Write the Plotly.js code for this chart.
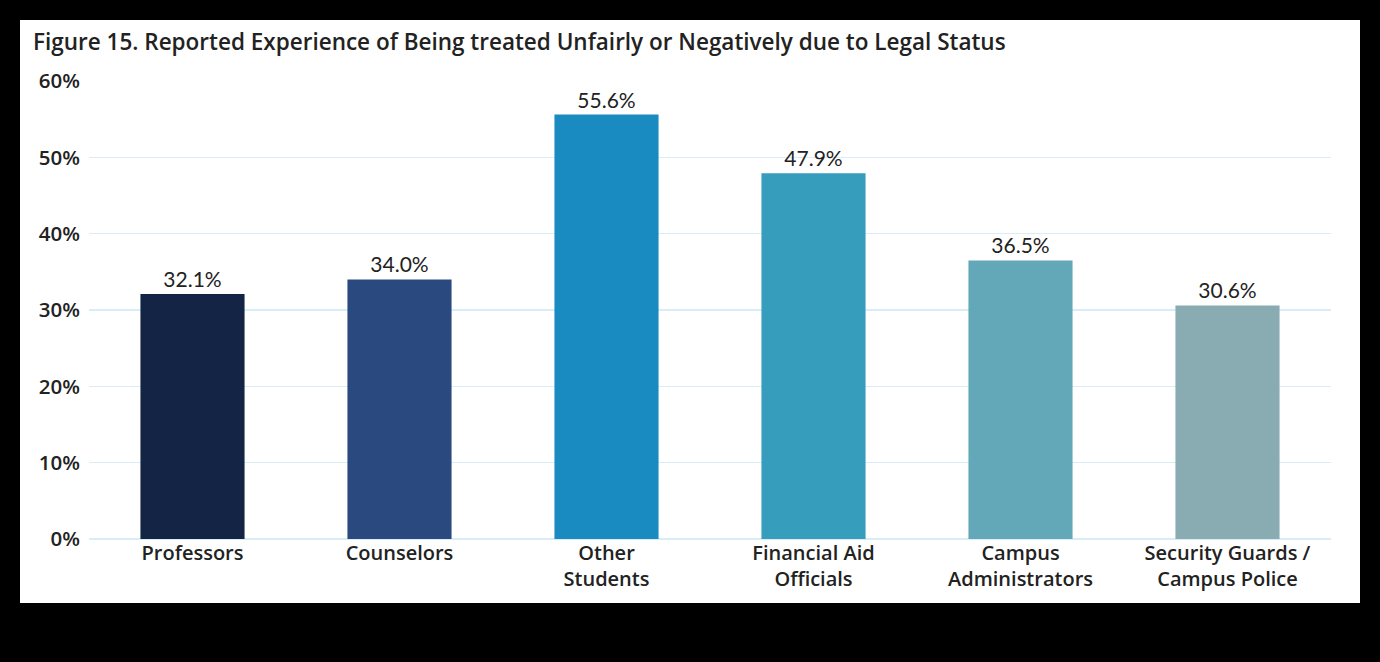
<!DOCTYPE html>
<html><head><meta charset="utf-8">
<script src="https://cdn.plot.ly/plotly-3.0.1.min.js"></script>
<style>
html,body{margin:0;padding:0;background:#000;width:1380px;height:662px;overflow:hidden;}
#chart{position:absolute;left:20px;top:20px;width:1340px;height:583px;background:#fff;}
</style></head>
<body><div id="chart"></div>
<script>
const categories = ["Professors","Counselors","Other<br>Students","Financial Aid<br>Officials","Campus<br>Administrators","Security Guards /<br>Campus Police"];
const values = [32.1, 34.0, 55.6, 47.9, 36.5, 30.6];
const valueLabels = ["32.1%","34.0%","55.6%","47.9%","36.5%","30.6%"];
const barColors = ["#132445","#2a4a7f","#1a8bc0","#369dbd","#63a8b8","#88acb2"];
const yTickVals = [0,10,20,30,40,50,60];
const yTickText = ["0%","10%","20%","30%","40%","50%","60%"];

const trace = {
  type:"bar", x:categories, y:values, text:valueLabels, textposition:"outside",
  texttemplate:"%{text}", cliponaxis:false,
  textfont:{family:"Lato, sans-serif", size:21, color:"#222"},
  marker:{color:barColors}, width:0.503, hoverinfo:"skip"
};
const layout = {
  width:1340, height:583,
  paper_bgcolor:"#fff", plot_bgcolor:"#fff",
  margin:{l:69, r:29, t:61, b:64},
  title:{text:"Figure 15. Reported Experience of Being treated Unfairly or Negatively due to Legal Status",
    x:13/1340, xanchor:"left", y:1-22/583, yanchor:"middle", xref:"container", yref:"container",
    font:{family:"Open Sans, sans-serif", size:22.5, color:"#222", weight:600}},
  xaxis:{type:"category", showgrid:false, showline:false, zeroline:false, ticks:"",
    ticklabelstandoff:0,
    tickfont:{family:"Open Sans, sans-serif", size:20, color:"#222", weight:600}},
  yaxis:{range:[0,60], tickvals:yTickVals, ticktext:yTickText, showgrid:true, ticks:"",
    ticklabelstandoff:8,
    tickfont:{family:"Open Sans, sans-serif", size:20.5, color:"#222", weight:600},
    gridcolor:"#d9edf6", gridwidth:1.5, zeroline:true, zerolinecolor:"#d9edf6", zerolinewidth:1.5, showline:false},
  showlegend:false, bargap:0.5
};
Plotly.newPlot("chart",[trace],layout,{displayModeBar:false, staticPlot:true});
</script></body></html>
